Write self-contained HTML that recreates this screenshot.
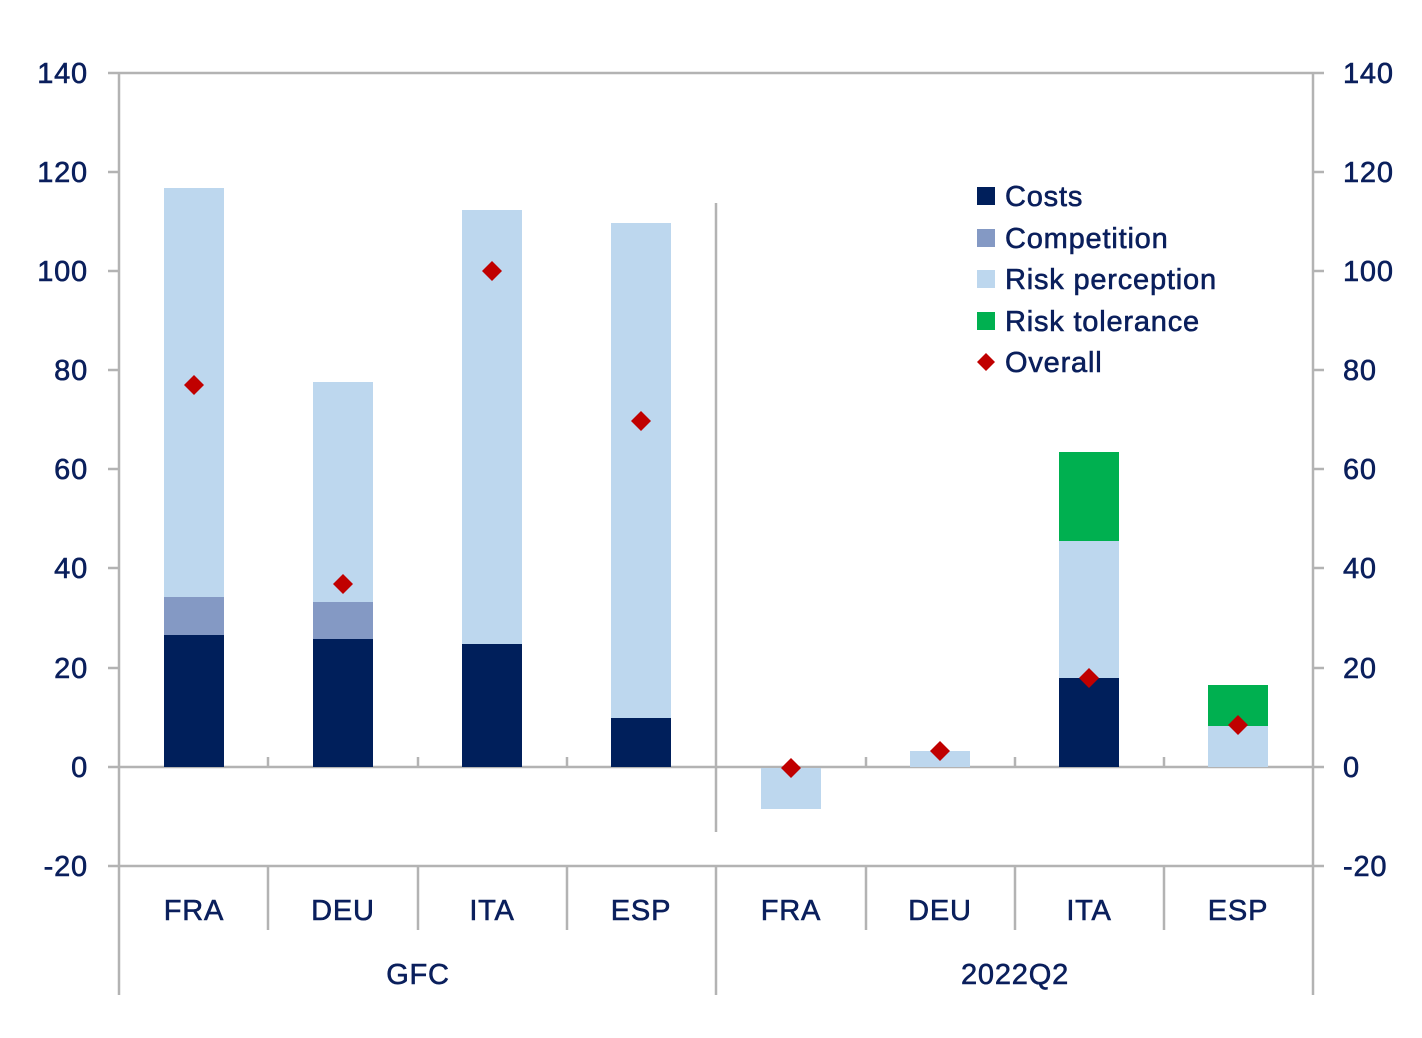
<!DOCTYPE html>
<html><head><meta charset="utf-8"><style>
body{margin:0;background:#fff}
svg text{font-family:"Liberation Sans",sans-serif;fill:#0a1f5c;font-size:29px;letter-spacing:0.8px;stroke:#0a1f5c;stroke-width:0.6px}
</style></head><body>
<svg width="1422" height="1033" xmlns="http://www.w3.org/2000/svg">
<g stroke="#b3b3b3" stroke-width="2.5" fill="none">
<line x1="108" y1="73" x2="1324" y2="73"/>
<line x1="108" y1="767" x2="1324" y2="767"/>
<line x1="108" y1="866" x2="1324" y2="866"/>
<line x1="119" y1="73" x2="119" y2="995"/>
<line x1="1313" y1="73" x2="1313" y2="995"/>
<line x1="716" y1="203" x2="716" y2="832"/>
<line x1="716" y1="866" x2="716" y2="995"/>
<g>
<line x1="108" y1="172" x2="119" y2="172"/><line x1="108" y1="271" x2="119" y2="271"/><line x1="108" y1="370" x2="119" y2="370"/><line x1="108" y1="469" x2="119" y2="469"/><line x1="108" y1="568" x2="119" y2="568"/><line x1="108" y1="668" x2="119" y2="668"/>
<line x1="1313" y1="172" x2="1324" y2="172"/><line x1="1313" y1="271" x2="1324" y2="271"/><line x1="1313" y1="370" x2="1324" y2="370"/><line x1="1313" y1="469" x2="1324" y2="469"/><line x1="1313" y1="568" x2="1324" y2="568"/><line x1="1313" y1="668" x2="1324" y2="668"/>
</g>
<line x1="268" y1="757" x2="268" y2="767"/><line x1="418" y1="757" x2="418" y2="767"/><line x1="567" y1="757" x2="567" y2="767"/><line x1="866" y1="757" x2="866" y2="767"/><line x1="1015" y1="757" x2="1015" y2="767"/><line x1="1164" y1="757" x2="1164" y2="767"/>
<line x1="268" y1="866" x2="268" y2="930"/><line x1="418" y1="866" x2="418" y2="930"/><line x1="567" y1="866" x2="567" y2="930"/><line x1="866" y1="866" x2="866" y2="930"/><line x1="1015" y1="866" x2="1015" y2="930"/><line x1="1164" y1="866" x2="1164" y2="930"/>
</g>
<rect x="164" y="188" width="60" height="409" fill="#bdd7ee"/>
<rect x="164" y="597" width="60" height="38" fill="#8499c4"/>
<rect x="164" y="635" width="60" height="132" fill="#001f5b"/>
<rect x="313" y="382" width="60" height="220" fill="#bdd7ee"/>
<rect x="313" y="602" width="60" height="37" fill="#8499c4"/>
<rect x="313" y="639" width="60" height="128" fill="#001f5b"/>
<rect x="462" y="210" width="60" height="434" fill="#bdd7ee"/>
<rect x="462" y="644" width="60" height="123" fill="#001f5b"/>
<rect x="611" y="223" width="60" height="495" fill="#bdd7ee"/>
<rect x="611" y="718" width="60" height="49" fill="#001f5b"/>
<rect x="761" y="768" width="60" height="41" fill="#bdd7ee"/>
<rect x="910" y="751" width="60" height="16" fill="#bdd7ee"/>
<rect x="1059" y="452" width="60" height="89" fill="#00b050"/>
<rect x="1059" y="541" width="60" height="137" fill="#bdd7ee"/>
<rect x="1059" y="678" width="60" height="89" fill="#001f5b"/>
<rect x="1208" y="685" width="60" height="41" fill="#00b050"/>
<rect x="1208" y="726" width="60" height="41" fill="#bdd7ee"/>
<g fill="#c00000">
<path d="M194 375l10 10-10 10-10-10z"/>
<path d="M343 574l10 10-10 10-10-10z"/>
<path d="M492 261l10 10-10 10-10-10z"/>
<path d="M641 411l10 10-10 10-10-10z"/>
<path d="M791 758l10 10-10 10-10-10z"/>
<path d="M940 741l10 10-10 10-10-10z"/>
<path d="M1089 668l10 10-10 10-10-10z"/>
<path d="M1238 715l10 10-10 10-10-10z"/>
</g>
<g text-anchor="end">
<text x="88" y="83">140</text><text x="88" y="182">120</text><text x="88" y="281">100</text><text x="88" y="380">80</text><text x="88" y="479">60</text><text x="88" y="578">40</text><text x="88" y="678">20</text><text x="88" y="777">0</text><text x="88" y="876">-20</text>
</g>
<g text-anchor="start">
<text x="1343" y="83">140</text><text x="1343" y="182">120</text><text x="1343" y="281">100</text><text x="1343" y="380">80</text><text x="1343" y="479">60</text><text x="1343" y="578">40</text><text x="1343" y="678">20</text><text x="1343" y="777">0</text><text x="1343" y="876">-20</text>
</g>
<g text-anchor="middle">
<text x="194" y="920">FRA</text><text x="343" y="920">DEU</text><text x="492" y="920">ITA</text><text x="641" y="920">ESP</text>
<text x="791" y="920">FRA</text><text x="940" y="920">DEU</text><text x="1089" y="920">ITA</text><text x="1238" y="920">ESP</text>
<text x="418" y="984">GFC</text><text x="1015" y="984">2022Q2</text>
</g>
<rect x="977" y="187" width="18" height="18" fill="#001f5b"/>
<rect x="977" y="229" width="18" height="18" fill="#8499c4"/>
<rect x="977" y="270" width="18" height="18" fill="#bdd7ee"/>
<rect x="977" y="312" width="18" height="18" fill="#00b050"/>
<path d="M986 353l9 9-9 9-9-9z" fill="#c00000"/>
<text x="1005" y="206">Costs</text>
<text x="1005" y="248">Competition</text>
<text x="1005" y="289">Risk perception</text>
<text x="1005" y="331">Risk tolerance</text>
<text x="1005" y="372">Overall</text>
</svg>
</body></html>
